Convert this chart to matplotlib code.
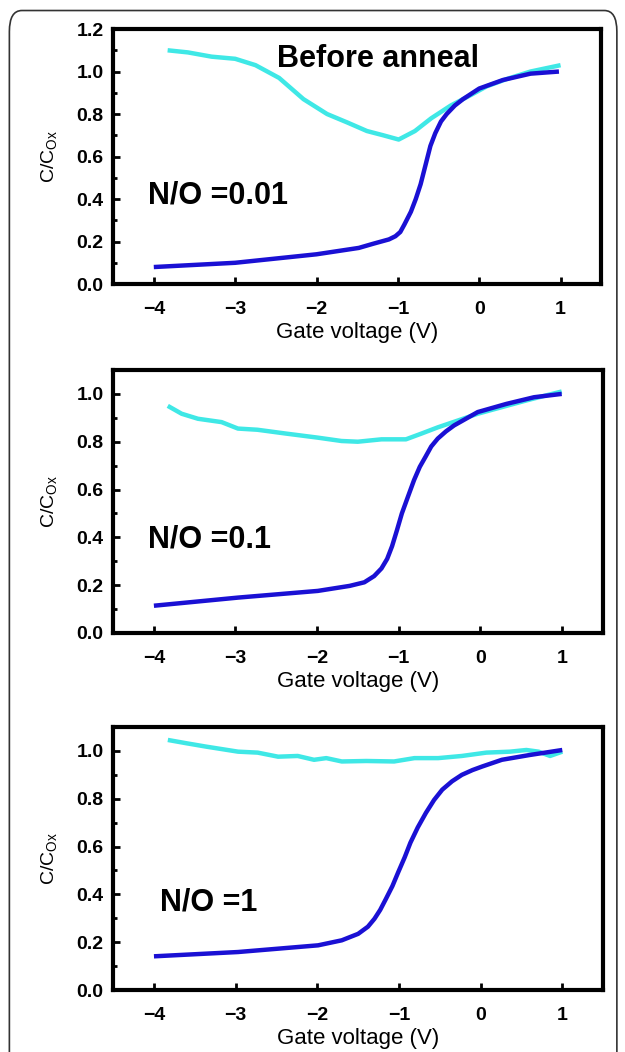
"""C-V curves before anneal for three N/O ratios."""

import matplotlib

matplotlib.use("Agg")
import matplotlib.pyplot as plt
from matplotlib.patches import FancyBboxPatch
from matplotlib.ticker import MultipleLocator

plt.rcParams["font.family"] = ["Liberation Sans", "DejaVu Sans"]

# panel 1: N/O = 0.01
v_blue_1 = [-4.0, -3.0, -2.0, -1.48, -1.3, -1.11, -1.03, -0.97, -0.92, -0.84,
            -0.78, -0.72, -0.66, -0.6, -0.54, -0.47, -0.40, -0.3, -0.20, -0.1,
            0.0, 0.29, 0.63, 0.98]
c_blue_1 = [0.08, 0.10, 0.14, 0.17, 0.19, 0.21, 0.225, 0.245, 0.28, 0.34,
            0.40, 0.47, 0.56, 0.65, 0.71, 0.765, 0.80, 0.84, 0.87, 0.895,
            0.92, 0.96, 0.99, 1.00]
v_cyan_1 = [-3.83, -3.58, -3.29, -3.0, -2.75, -2.46, -2.16, -1.87, -1.62, -1.38,
            -1.18, -0.99, -0.79, -0.59, -0.35, -0.10, 0.09, 0.34, 0.63, 1.0]
c_cyan_1 = [1.10, 1.09, 1.07, 1.06, 1.03, 0.97, 0.87, 0.80, 0.76, 0.72,
            0.70, 0.68, 0.72, 0.78, 0.84, 0.89, 0.93, 0.965, 1.00, 1.03]

# panel 2: N/O = 0.1
v_blue_2 = [-4.0, -2.97, -1.99, -1.6, -1.42, -1.3, -1.21, -1.14, -1.08, -1.02,
            -0.96, -0.88, -0.81, -0.74, -0.67, -0.6, -0.52, -0.42, -0.32, -0.18,
            -0.03, 0.32, 0.66, 1.0]
c_blue_2 = [0.114, 0.148, 0.176, 0.197, 0.212, 0.238, 0.27, 0.31, 0.363, 0.43,
            0.50, 0.575, 0.64, 0.695, 0.737, 0.78, 0.813, 0.843, 0.868, 0.895,
            0.924, 0.958, 0.986, 1.0]
v_cyan_2 = [-3.83, -3.66, -3.46, -3.17, -2.97, -2.73, -2.38, -1.99, -1.7, -1.5,
            -1.21, -0.91, -0.72, -0.52, -0.27, -0.03, 0.27, 0.56, 0.8, 1.0]
c_cyan_2 = [0.95, 0.917, 0.896, 0.882, 0.855, 0.85, 0.834, 0.817, 0.803, 0.80,
            0.81, 0.81, 0.834, 0.86, 0.889, 0.917, 0.945, 0.972, 0.993, 1.01]

# panel 3: N/O = 1
v_blue_3 = [-4.0, -2.97, -1.99, -1.7, -1.5, -1.38, -1.3, -1.23, -1.16, -1.08,
            -1.01, -0.93, -0.86, -0.77, -0.67, -0.57, -0.47, -0.35, -0.23, -0.1,
            0.02, 0.26, 0.6, 1.0]
c_blue_3 = [0.141, 0.159, 0.187, 0.208, 0.235, 0.265, 0.298, 0.335, 0.381, 0.435,
            0.492, 0.555, 0.616, 0.68, 0.741, 0.795, 0.838, 0.873, 0.90, 0.92,
            0.935, 0.963, 0.983, 1.004]
v_cyan_3 = [-3.83, -3.6, -3.36, -2.97, -2.73, -2.48, -2.24, -2.04, -1.89, -1.7,
            -1.4, -1.06, -0.81, -0.52, -0.23, 0.07, 0.36, 0.56, 0.71, 0.85, 1.0]
c_cyan_3 = [1.046, 1.032, 1.018, 0.997, 0.993, 0.976, 0.979, 0.963, 0.97, 0.956,
            0.958, 0.956, 0.97, 0.97, 0.979, 0.993, 0.997, 1.004, 0.997, 0.979, 0.997]

ratio_labels = ["N/O =0.01", "N/O =0.1", "N/O =1"]
y_limits = [1.2, 1.1, 1.1]
x_ticks = [-4, -3, -2, -1, 0, 1]

BLUE = "#1a10d4"
CYAN = "#3fe8e6"

panels = [
    (v_blue_1, c_blue_1, v_cyan_1, c_cyan_1),
    (v_blue_2, c_blue_2, v_cyan_2, c_cyan_2),
    (v_blue_3, c_blue_3, v_cyan_3, c_cyan_3),
]
# [left, bottom, width, height] in figure fractions
boxes = [
    [0.181, 0.730, 0.781, 0.2424],
    [0.181, 0.3983, 0.783, 0.2500],
    [0.181, 0.0589, 0.784, 0.2500],
]
label_pos = [(-4.07, 0.415), (-4.07, 0.39), (-3.93, 0.367)]

fig = plt.figure(figsize=(6.25, 10.52), dpi=100)

frame = FancyBboxPatch((0.015, -0.05), 0.972, 1.04,
                       boxstyle="round,pad=0,rounding_size=0.02",
                       transform=fig.transFigure, fill=False,
                       edgecolor="#333333", linewidth=1.2)
fig.patches.append(frame)

for i, (vb, cb, vc, cc) in enumerate(panels):
    ax = fig.add_axes(boxes[i])
    ax.plot(vc, cc, color=CYAN, lw=3.2, solid_capstyle="butt")
    ax.plot(vb, cb, color=BLUE, lw=3.2, solid_capstyle="butt")
    ax.set_xlim(-4.5, 1.5)
    ax.set_ylim(0, y_limits[i])
    ax.set_xticks(x_ticks)
    ax.set_xticklabels(["\u22124", "\u22123", "\u22122", "\u22121", "0", "1"])
    ax.yaxis.set_major_locator(MultipleLocator(0.2))
    ax.yaxis.set_minor_locator(MultipleLocator(0.1))
    ax.yaxis.set_major_formatter(lambda v, pos: f"{v:.1f}")
    ax.tick_params(direction="in", width=2, length=5, labelsize=14)
    ax.tick_params(axis="x", pad=12)
    ax.tick_params(axis="y", pad=7)
    ax.tick_params(axis="y", which="minor", direction="in", width=2, length=3)
    for lbl in ax.get_xticklabels() + ax.get_yticklabels():
        lbl.set_fontweight("bold")
    for sp in ax.spines.values():
        sp.set_linewidth(3)
    ax.set_xlabel("Gate voltage (V)", fontsize=16, labelpad=3)
    ax.set_ylabel(r"C/C$_{\mathregular{Ox}}$", fontsize=14, labelpad=12)
    lx, ly = label_pos[i]
    ax.text(lx, ly, ratio_labels[i], fontsize=22, fontweight="bold",
            ha="left", va="center")
    if i == 0:
        ax.text(-2.48, 1.06, "Before anneal", fontsize=22, fontweight="bold",
                ha="left", va="center")

fig.savefig("out.png", dpi=100)
